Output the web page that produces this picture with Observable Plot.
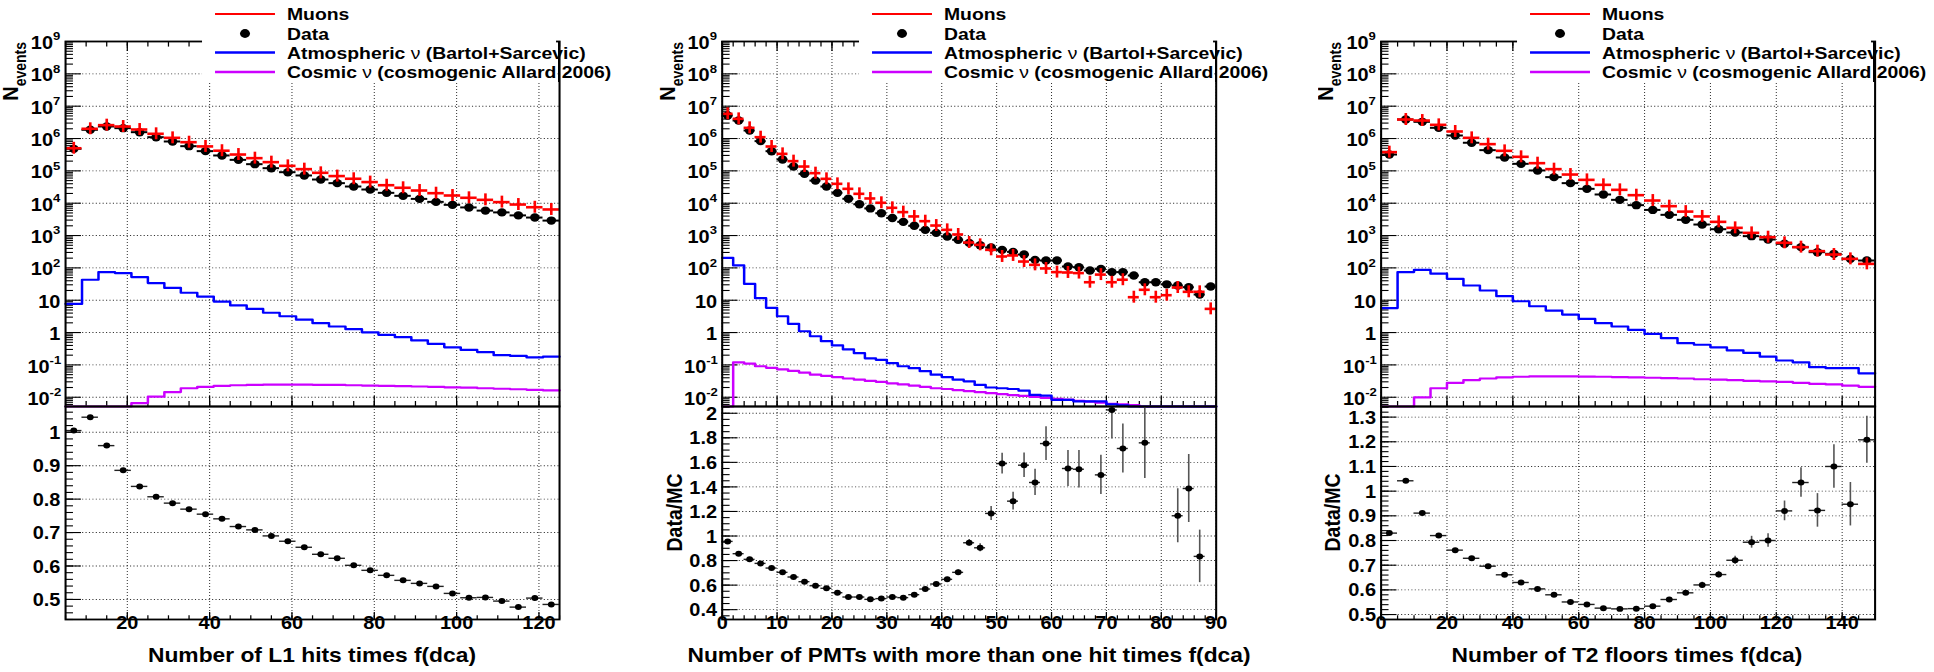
<!DOCTYPE html>
<html><head><meta charset="utf-8">
<script src="https://cdn.jsdelivr.net/npm/d3@7"></script>
<script src="https://cdn.jsdelivr.net/npm/@observablehq/plot@0.6"></script>
<style>
html,body{margin:0;padding:0;background:#fff;overflow:hidden;}
#chart{position:relative;width:1696.49px;height:672px;transform:scaleX(1.14);transform-origin:0 0;}
#chart svg{position:absolute;}
</style></head><body><div id="chart"></div>
<script>
// ---------------- data ----------------
const legendLabels = ["Muons", "Data", "Atmospheric ν (Bartol+Sarcevic)", "Cosmic ν (cosmogenic Allard 2006)"];
const logTicks = [1e-2, 1e-1, 1, 10, 1e2, 1e3, 1e4, 1e5, 1e6, 1e7, 1e8, 1e9];

// Panel 1 : Number of L1 hits times f(dca); bins of 4 starting at 5
const p1Title = "Number of L1 hits times f(dca)";
const p1XTicks = [20, 40, 60, 80, 100, 120];
const p1RTicks = [0.5, 0.6, 0.7, 0.8, 0.9, 1];
const p1Data = [4.8e5, 1.86e6, 2.36e6, 2.09e6, 1.57e6, 1.10e6, 8.1e5, 5.8e5, 4.07e5, 2.99e5, 2.19e5, 1.61e5, 1.21e5, 9.1e4, 7.2e4, 5.4e4, 4.17e4, 3.28e4, 2.65e4, 2.09e4, 1.69e4, 1.36e4, 1.10e4, 8.9e3, 7.4e3, 5.9e3, 5.2e3, 4.2e3, 3.6e3, 2.9e3];
const p1Muons = [5.0e5, 2.0e6, 2.59e6, 2.35e6, 1.90e6, 1.40e6, 1.05e6, 7.7e5, 5.7e5, 4.2e5, 3.2e5, 2.47e5, 1.86e5, 1.43e5, 1.13e5, 8.7e4, 6.9e4, 5.7e4, 4.5e4, 3.6e4, 3.0e4, 2.47e4, 2.04e4, 1.73e4, 1.47e4, 1.27e4, 1.08e4, 9.1e3, 7.5e3, 6.4e3];
const p1Atm = [7.7, 43, 74, 69, 52, 34, 24, 17, 13, 9.1, 6.9, 5.4, 4.1, 3.2, 2.5, 1.95, 1.54, 1.27, 1.02, 0.85, 0.72, 0.57, 0.45, 0.35, 0.29, 0.25, 0.2, 0.19, 0.17, 0.18];
const p1Cosmic = [0.001, 0.001, 0.001, 0.001, 0.0066, 0.0104, 0.0144, 0.019, 0.021, 0.0225, 0.0235, 0.024, 0.0245, 0.0245, 0.0245, 0.0243, 0.024, 0.0235, 0.023, 0.0225, 0.022, 0.0215, 0.021, 0.0203, 0.0197, 0.019, 0.0183, 0.0177, 0.017, 0.0163];
const p1Ratio = [1.005, 1.045, 0.960, 0.886, 0.838, 0.807, 0.788, 0.770, 0.755, 0.741, 0.718, 0.708, 0.690, 0.674, 0.656, 0.635, 0.623, 0.602, 0.587, 0.572, 0.557, 0.548, 0.539, 0.518, 0.505, 0.506, 0.495, 0.477, 0.504, 0.485];
const p1RatioErr = [0.002, 0.002, 0.002, 0.002, 0.002, 0.002, 0.002, 0.002, 0.002, 0.002, 0.002, 0.002, 0.002, 0.002, 0.002, 0.002, 0.002, 0.002, 0.002, 0.002, 0.002, 0.002, 0.002, 0.002, 0.003, 0.003, 0.003, 0.003, 0.003, 0.003];

// Panel 2 : Number of PMTs with more than one hit times f(dca); bins of 2 starting at 0
const p2Title = "Number of PMTs with more than one hit times f(dca)";
const p2XTicks = [0, 10, 20, 30, 40, 50, 60, 70, 80, 90];
const p2RTicks = [0.4, 0.6, 0.8, 1, 1.2, 1.4, 1.6, 1.8, 2];
const p2Data = [5.15e6, 3.6e6, 1.77e6, 8.3e5, 4.06e5, 2.24e5, 1.36e5, 8.1e4, 5.0e4, 3.28e4, 2.09e4, 1.37e4, 9.3e3, 6.9e3, 4.9e3, 3.5e3, 2.65e3, 2.0e3, 1.5e3, 1.21e3, 935, 736, 594, 504, 426, 361, 313, 259, 177, 169, 169, 110, 105, 83, 93, 74, 74, 58, 36, 36, 31, 28.5, 25.3, 15, 26.5];
const p2Muons = [5.8e6, 4.06e6, 2.14e6, 1.10e6, 5.67e5, 3.36e5, 2.0e5, 1.36e5, 8.5e4, 5.67e4, 3.97e4, 2.78e4, 1.95e4, 1.4e4, 1.03e4, 7.2e3, 5.3e3, 3.9e3, 2.78e3, 2.04e3, 1.5e3, 1.08e3, 609, 516, 361, 225, 242, 157, 124, 96, 74, 72, 69, 36, 62, 36, 43, 12.4, 21, 12.4, 14.3, 24.7, 18.2, 18.2, 5.4];
const p2Atm = [204, 119, 32, 11.6, 5.8, 3.2, 1.86, 1.1, 0.77, 0.54, 0.4, 0.3, 0.23, 0.16, 0.144, 0.113, 0.091, 0.079, 0.064, 0.05, 0.042, 0.035, 0.031, 0.024, 0.020, 0.019, 0.018, 0.016, 0.0118, 0.0112, 0.0083, 0.0083, 0.0074, 0.0074, 0.0074, 0.006, 0.0056, 0.002, 0.002, 0.002, 0.002, 0.002, 0.002, 0.002, 0.002];
const p2Cosmic = [0.001, 0.12, 0.11, 0.091, 0.081, 0.073, 0.065, 0.058, 0.05, 0.046, 0.042, 0.038, 0.035, 0.032, 0.03, 0.027, 0.025, 0.023, 0.021, 0.019, 0.018, 0.0165, 0.0155, 0.0145, 0.0135, 0.0125, 0.0117, 0.011, 0.0102, 0.0096, 0.009, 0.0084, 0.0078, 0.0073, 0.0068, 0.0063, 0.006, 0.0057, 0.002, 0.002, 0.002, 0.002, 0.002, 0.002, 0.002];
const p2Ratio = [0.956, 0.856, 0.81, 0.777, 0.739, 0.704, 0.666, 0.628, 0.595, 0.574, 0.538, 0.503, 0.503, 0.484, 0.49, 0.503, 0.498, 0.522, 0.568, 0.609, 0.647, 0.704, 0.945, 0.904, 1.184, 1.59, 1.284, 1.577, 1.436, 1.753, null, 1.55, 1.544, null, 1.498, 2.027, 1.713, null, 1.759, null, null, 1.165, 1.387, 0.834, null];
const p2RatioErr = [0.006, 0.005, 0.005, 0.005, 0.005, 0.005, 0.005, 0.005, 0.005, 0.005, 0.005, 0.006, 0.006, 0.007, 0.008, 0.008, 0.009, 0.01, 0.012, 0.014, 0.016, 0.02, 0.027, 0.033, 0.057, 0.084, 0.073, 0.10, 0.107, 0.138, null, 0.146, 0.152, null, 0.159, 0.236, 0.2, null, 0.29, null, null, 0.22, 0.277, 0.214, null];

// Panel 3 : Number of T2 floors times f(dca); bins of 5 starting at 0
const p3Title = "Number of T2 floors times f(dca)";
const p3XTicks = [0, 20, 40, 60, 80, 100, 120, 140];
const p3RTicks = [0.5, 0.6, 0.7, 0.8, 0.9, 1, 1.1, 1.2, 1.3];
const p3Data = [3.2e5, 3.87e6, 3.28e6, 2.14e6, 1.24e6, 7.4e5, 4.37e5, 2.59e5, 1.65e5, 1.03e5, 6.4e4, 4.17e4, 2.78e4, 1.86e4, 1.27e4, 8.7e3, 6.2e3, 4.37e3, 3.06e3, 2.19e3, 1.57e3, 1.24e3, 957, 755, 555, 438, 306, 272, 190, 169];
const p3Muons = [3.79e5, 3.87e6, 3.6e6, 2.65e6, 1.65e6, 1.05e6, 6.7e5, 4.16e5, 2.72e5, 1.73e5, 1.13e5, 7.7e4, 5.27e4, 3.7e4, 2.59e4, 1.77e4, 1.21e4, 8.1e3, 5.5e3, 3.9e3, 2.65e3, 1.73e3, 1.21e3, 890, 596, 438, 329, 259, 190, 133];
const p3Atm = [5.7, 74, 87, 66, 46, 28.5, 20, 13.3, 9.3, 6.5, 4.8, 3.6, 2.65, 1.95, 1.54, 1.21, 0.91, 0.67, 0.47, 0.42, 0.35, 0.28, 0.235, 0.18, 0.137, 0.12, 0.085, 0.079, 0.079, 0.055];
const p3Cosmic = [0.001, 0.001, 0.0099, 0.019, 0.028, 0.034, 0.038, 0.041, 0.043, 0.044, 0.044, 0.044, 0.0435, 0.043, 0.042, 0.041, 0.040, 0.039, 0.038, 0.036, 0.035, 0.034, 0.032, 0.031, 0.030, 0.028, 0.026, 0.025, 0.023, 0.021];
const p3Ratio = [0.83, 1.042, 0.911, 0.82, 0.761, 0.728, 0.696, 0.661, 0.63, 0.604, 0.58, 0.551, 0.541, 0.526, 0.523, 0.524, 0.534, 0.561, 0.588, 0.62, 0.662, 0.72, 0.793, 0.8, 0.92, 1.035, 0.922, 1.1, 0.947, 1.208];
const p3RatioErr = [0.003, 0.003, 0.003, 0.003, 0.003, 0.003, 0.003, 0.003, 0.003, 0.004, 0.004, 0.004, 0.005, 0.005, 0.005, 0.006, 0.007, 0.008, 0.009, 0.011, 0.013, 0.016, 0.024, 0.027, 0.04, 0.06, 0.068, 0.088, 0.088, 0.095];

// ---------------- layout ----------------
const S = 1.14;                       // horizontal stretch of the original picture
const FONT = "'Liberation Sans', Arial, Helvetica, sans-serif";
const INNER_W = 1934 / S, H = 672;
const FRAME_W = 494 / S;
const FRAME_LEFT = [65 / S, 722 / S, 1380 / S];
const TOP_Y = 41, MID_Y = 406, BOT_Y = 619;
const ML = 57, MR = 12;
const Y_MIN = 0.00518, Y_MAX = 1e9;
const RED = "#ff0000", BLUE = "#0000ff", MAGENTA = "#cc00ff";
const MU_BAR = 1.53; // half-height of the muon MC error cross in log units
const TICK_FS = 17.5;

const panels = [
  {start: 5, width: 4, data: p1Data, muons: p1Muons, atm: p1Atm, cosmic: p1Cosmic, ratio: p1Ratio, ratioErr: p1RatioErr,
   xDomain: [5, 125], xTicks: p1XTicks, xMinorStep: 5, rDomain: [0.44, 1.077], rTicks: p1RTicks, rMinorStep: 0.02, title: p1Title, dataMC: false},
  {start: 0, width: 2, data: p2Data, muons: p2Muons, atm: p2Atm, cosmic: p2Cosmic, ratio: p2Ratio, ratioErr: p2RatioErr,
   xDomain: [0, 90], xTicks: p2XTicks, xMinorStep: 2, rDomain: [0.32, 2.055], rTicks: p2RTicks, rMinorStep: 0.05, title: p2Title, dataMC: true},
  {start: 0, width: 5, data: p3Data, muons: p3Muons, atm: p3Atm, cosmic: p3Cosmic, ratio: p3Ratio, ratioErr: p3RatioErr,
   xDomain: [0, 150], xTicks: p3XTicks, xMinorStep: 5, rDomain: [0.48, 1.343], rTicks: p3RTicks, rMinorStep: 0.02, title: p3Title, dataMC: true}
];

const chart = document.getElementById("chart");
const tf = {fontFamily: FONT, fontWeight: "bold", fill: "#000"};
const grid = {stroke: "#000", strokeWidth: 0.9, strokeDasharray: "1,2", strokeOpacity: 0.8};
const tk = {stroke: "#000", strokeWidth: 1.1};

function range(a, b, step) {
  const out = [];
  for (let v = a; v <= b + step * 1e-6; v += step) out.push(Math.round(v / step) * step);
  return out;
}

function place(svg, left, top) {
  svg.style.left = left + "px";
  svg.style.top = top + "px";
  chart.appendChild(svg);
}

function makeTop(p, fl) {
  const fh = MID_Y - TOP_Y;
  const bins = p.data.map((v, i) => ({lo: p.start + i * p.width, hi: p.start + (i + 1) * p.width,
    c: p.start + (i + 0.5) * p.width, data: v, mc: p.muons[i]}));
  const steps = arr => arr.flatMap((v, i) => [{x: p.start + i * p.width, y: v}, {x: p.start + (i + 1) * p.width, y: v}]);
  const logMinor = [];
  for (let e = -3; e <= 8; e++) for (let k = 2; k <= 9; k++) { const v = k * Math.pow(10, e); if (v >= Y_MIN && v <= Y_MAX) logMinor.push(v); }
  const xMinor = range(p.xDomain[0], p.xDomain[1], p.xMinorStep);
  const lab = logTicks.map(v => ({v, e: Math.round(Math.log10(v))}));
  const supPos = lab.filter(d => d.e >= 2), supNeg = lab.filter(d => d.e < 0), plain = lab.filter(d => d.e === 0 || d.e === 1);
  const svg = Plot.plot({
    width: ML + FRAME_W + MR, height: MID_Y + 1,
    marginLeft: ML, marginRight: MR, marginTop: TOP_Y, marginBottom: 1,
    style: {overflow: "visible", background: "transparent"},
    x: {domain: p.xDomain, axis: null},
    y: {type: "log", domain: [Y_MIN, Y_MAX], clamp: true, axis: null},
    marks: [
      Plot.ruleY(logTicks, {y: d => d, ...grid}),
      Plot.ruleX(p.xTicks, {x: d => d, ...grid}),
      Plot.tickY(logMinor, {y: d => d, insetRight: FRAME_W - 7, ...tk}),
      Plot.tickY(logTicks, {y: d => d, insetRight: FRAME_W - 14, ...tk}),
      Plot.tickX(xMinor, {x: d => d, insetTop: fh - 5, ...tk}),
      Plot.tickX(p.xTicks, {x: d => d, insetTop: fh - 10, ...tk}),
      Plot.tickX(xMinor, {x: d => d, insetBottom: fh - 5.6, ...tk}),
      Plot.tickX(p.xTicks, {x: d => d, insetBottom: fh - 10, ...tk}),
      Plot.line(steps(p.cosmic), {x: "x", y: "y", stroke: MAGENTA, strokeWidth: 2.2}),
      Plot.line(steps(p.atm), {x: "x", y: "y", stroke: BLUE, strokeWidth: 2.2}),
      Plot.ruleY(bins, {y: "data", x1: "lo", x2: "hi", stroke: "#000", strokeWidth: 2}),
      Plot.dot(bins, {x: "c", y: "data", r: 4.2, fill: "#000"}),
      Plot.ruleY(bins, {y: "mc", x1: "lo", x2: "hi", stroke: RED, strokeWidth: 2.6}),
      Plot.ruleX(bins, {x: "c", y1: d => d.mc / MU_BAR, y2: d => d.mc * MU_BAR, stroke: RED, strokeWidth: 2.3}),
      Plot.frame({stroke: "#000", strokeWidth: 1.8}),
      Plot.text(supPos, {y: "v", text: () => "10", frameAnchor: "left", textAnchor: "end", dx: -11, dy: 2, fontSize: TICK_FS, ...tf}),
      Plot.text(supPos, {y: "v", text: d => String(d.e), frameAnchor: "left", textAnchor: "start", dx: -11, dy: -5, fontSize: 11.5, ...tf}),
      Plot.text(supNeg, {y: "v", text: () => "10", frameAnchor: "left", textAnchor: "end", dx: -14, dy: 2, fontSize: TICK_FS, ...tf}),
      Plot.text(supNeg, {y: "v", text: d => String(d.e), frameAnchor: "left", textAnchor: "start", dx: -14, dy: -5, fontSize: 11.5, ...tf}),
      Plot.text(plain, {y: "v", text: d => d.e === 0 ? "1" : "10", frameAnchor: "left", textAnchor: "end", dx: -4.5, dy: 2, fontSize: TICK_FS, ...tf})
    ]
  });
  place(svg, fl - ML, 0);
}

function makeBottom(p, fl) {
  const fh = BOT_Y - MID_Y;
  const bins = p.ratio.map((r, i) => ({lo: p.start + i * p.width, hi: p.start + (i + 1) * p.width,
    c: p.start + (i + 0.5) * p.width, r, e: p.ratioErr[i]})).filter(d => d.r != null);
  const xMinor = range(p.xDomain[0], p.xDomain[1], p.xMinorStep);
  const rMinor = range(Math.ceil(p.rDomain[0] / p.rMinorStep) * p.rMinorStep, p.rDomain[1], p.rMinorStep);
  const svg = Plot.plot({
    width: ML + FRAME_W + MR, height: H - MID_Y,
    marginLeft: ML, marginRight: MR, marginTop: 0, marginBottom: H - BOT_Y,
    style: {overflow: "visible", background: "transparent"},
    x: {domain: p.xDomain, axis: null},
    y: {domain: p.rDomain, clamp: true, axis: null},
    marks: [
      Plot.ruleY(p.rTicks, {y: d => d, ...grid}),
      Plot.ruleX(p.xTicks, {x: d => d, ...grid}),
      Plot.tickY(rMinor, {y: d => d, insetRight: FRAME_W - 7, ...tk}),
      Plot.tickY(p.rTicks, {y: d => d, insetRight: FRAME_W - 14, ...tk}),
      Plot.tickX(xMinor, {x: d => d, insetTop: fh - 3.7, ...tk}),
      Plot.tickX(p.xTicks, {x: d => d, insetTop: fh - 7, ...tk}),
      Plot.ruleX(bins, {x: "c", y1: d => d.r - d.e, y2: d => d.r + d.e, stroke: "#555", strokeWidth: 1.4}),
      Plot.ruleY(bins, {y: "r", x1: "lo", x2: "hi", stroke: "#222", strokeWidth: 1.4}),
      Plot.dot(bins, {x: "c", y: "r", r: 3, fill: "#000"}),
      Plot.frame({stroke: "#000", strokeWidth: 1.8}),
      Plot.text(p.xTicks, {x: d => d, text: d => String(d), frameAnchor: "bottom", dy: 10, fontSize: TICK_FS, ...tf}),
      Plot.text(p.rTicks, {y: d => d, text: d => String(d), frameAnchor: "left", textAnchor: "end", dx: -4.5, dy: 1, fontSize: TICK_FS, ...tf})
    ]
  });
  place(svg, fl - ML, MID_Y);
}

panels.forEach((p, i) => { makeTop(p, FRAME_LEFT[i]); makeBottom(p, FRAME_LEFT[i]); });

// ---------------- overlay: legends, titles ----------------
const ov = d3.create("svg").attr("width", INNER_W).attr("height", H)
  .style("left", "0px").style("top", "0px").style("overflow", "visible")
  .attr("font-family", FONT).attr("font-weight", "bold");
ov.append("defs").append("clipPath").attr("id", "clipP3")
  .append("rect").attr("x", 1318 / S).attr("y", 0).attr("width", 400).attr("height", H);

const rowsY = [14, 33.5, 52.5, 72];
const legendColors = [RED, "#000", BLUE, MAGENTA];

panels.forEach((p, i) => {
  const fl = FRAME_LEFT[i], fr = fl + FRAME_W;
  ov.append("rect").attr("x", fl + 120.2).attr("y", 0).attr("width", FRAME_W - 120.2 - 2.6).attr("height", 82).attr("fill", "#fff");
  ov.append("line").attr("x1", fr).attr("x2", fr).attr("y1", TOP_Y).attr("y2", 82).attr("stroke", "#000").attr("stroke-width", 1.8);
  legendLabels.forEach((lab, k) => {
    const y = rowsY[k];
    if (k === 1) {
      ov.append("circle").attr("cx", fl + 157.9).attr("cy", y).attr("r", 4.4).attr("fill", "#000");
    } else {
      ov.append("line").attr("x1", fl + 131.6).attr("x2", fl + 184.2).attr("y1", y).attr("y2", y)
        .attr("stroke", legendColors[k]).attr("stroke-width", k === 0 ? 2 : 2.4);
    }
    const t = ov.append("text").attr("x", fl + 194.7).attr("y", y + 6.5).attr("font-size", 17).attr("fill", "#000");
    const parts = lab.split("ν");
    parts.forEach((part, j) => {
      if (j > 0) t.append("tspan").attr("font-weight", "normal").text("ν");
      t.append("tspan").text(part);
    });
  });
  // y title of the top pad
  const g = ov.append("g");
  if (i === 2) g.attr("clip-path", "url(#clipP3)");
  const nt = g.append("text").attr("transform", `translate(${fl - 41},${TOP_Y + 1}) rotate(-90)`).attr("text-anchor", "end").attr("fill", "#000");
  nt.append("tspan").attr("font-size", 20).text("N");
  nt.append("tspan").attr("font-size", 14).attr("dy", 6.5).text("events");
  // y title of the ratio pad
  if (p.dataMC) {
    ov.append("text").attr("transform", `translate(${fl - 35},${(MID_Y + BOT_Y) / 2}) rotate(-90)`)
      .attr("text-anchor", "middle").attr("font-size", 19.5).attr("fill", "#000").text("Data/MC");
  }
  // x title
  ov.append("text").attr("x", fl + FRAME_W / 2).attr("y", 662).attr("text-anchor", "middle")
    .attr("font-size", 20).attr("fill", "#000").text(p.title);
});
chart.appendChild(ov.node());
</script></body></html>
